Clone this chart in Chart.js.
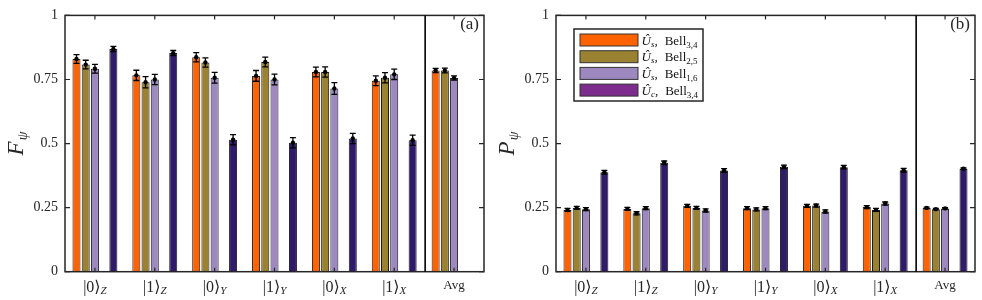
<!DOCTYPE html>
<html><head><meta charset="utf-8">
<script src="https://cdn.jsdelivr.net/npm/chart.js@4.4.0/dist/chart.umd.min.js"></script>
<style>
html,body{margin:0;padding:0;background:#fff;}
#wrap{position:relative;width:982px;height:300px;overflow:hidden;}
.box{position:absolute;top:0;width:491px;height:300px;}
</style></head><body>
<div id="wrap">
<div class="box" style="left:0"><canvas id="ca" width="491" height="300"></canvas></div>
<div class="box" style="left:491px"><canvas id="cb" width="491" height="300"></canvas></div>
</div>
<script>
// ---- data ----
const categories = ['|0⟩_Z','|1⟩_Z','|0⟩_Y','|1⟩_Y','|0⟩_X','|1⟩_X','Avg'];
const yTicks = [0, 0.25, 0.5, 0.75, 1];
const yTickLabels = ['0', '0.25', '0.5', '0.75', '1'];

// panel (a): fidelity
const F_s34 = [0.830, 0.766, 0.837, 0.764, 0.779, 0.745, 0.785];
const F_s25 = [0.808, 0.739, 0.816, 0.818, 0.779, 0.757, 0.785];
const F_s16 = [0.792, 0.750, 0.757, 0.750, 0.715, 0.770, 0.756];
const F_c34 = [0.869, 0.853, 0.515, 0.503, 0.520, 0.513, null];
const F_s34_err = [0.017, 0.020, 0.018, 0.021, 0.019, 0.019, 0.008];
const F_s25_err = [0.017, 0.022, 0.018, 0.019, 0.020, 0.020, 0.009];
const F_s16_err = [0.017, 0.020, 0.021, 0.021, 0.023, 0.020, 0.008];
const F_c34_err = [0.010, 0.010, 0.020, 0.020, 0.020, 0.020, null];

// panel (b): probability
const P_s34 = [0.241, 0.245, 0.257, 0.248, 0.257, 0.252, 0.249];
const P_s25 = [0.249, 0.228, 0.249, 0.243, 0.258, 0.241, 0.244];
const P_s16 = [0.244, 0.248, 0.239, 0.248, 0.235, 0.266, 0.247];
const P_c34 = [0.388, 0.425, 0.395, 0.409, 0.408, 0.396, 0.402];
const P_s34_err = [0.006, 0.006, 0.006, 0.006, 0.006, 0.006, 0.003];
const P_s25_err = [0.006, 0.006, 0.006, 0.006, 0.006, 0.006, 0.003];
const P_s16_err = [0.006, 0.006, 0.006, 0.006, 0.006, 0.006, 0.003];
const P_c34_err = [0.007, 0.007, 0.007, 0.007, 0.007, 0.007, 0.003];

// legend text parts
const seriesOp = ['Û', 'Û', 'Û', 'Û'];
const seriesOpSub = ['s', 's', 's', 'c'];
const seriesBellSub = ['3,4', '2,5', '1,6', '3,4'];

// ---- styles ----
const barColors = ['#FF6200', '#9A8232', '#9D88BF', '#2F1B69'];
const legendColors = ['#FF6200', '#9A8232', '#9D88BF', '#7B2C8C'];
const axisColor = '#262626';
const SERIF = '"Liberation Serif", "DejaVu Serif", serif';

function makeDatasets(vals, errs) {
  const ds = [];
  for (let i = 0; i < 3; i++) {
    ds.push({ data: vals[i], err: errs[i], backgroundColor: barColors[i], borderColor: '#1c1c1c', borderWidth: 1 });
  }
  ds.push({ data: categories.map(() => null), err: null, backgroundColor: 'rgba(0,0,0,0)' }); // empty slot
  ds.push({ data: vals[3], err: errs[3], backgroundColor: barColors[3], borderColor: '#1c1c1c', borderWidth: 1 });
  return ds;
}

function drawRich(ctx, parts, x, y, align) {
  let total = 0;
  parts.forEach(p => { ctx.font = p.font; p.w = ctx.measureText(p.t).width + (p.gap || 0); total += p.w; });
  let cx = align === 'center' ? x - total / 2 : x;
  ctx.textAlign = 'left';
  ctx.textBaseline = 'alphabetic';
  parts.forEach(p => { ctx.font = p.font; ctx.fillText(p.t, cx, y + (p.dy || 0)); cx += p.w; });
}

function decorPlugin(panel, yTitleMain, hasLegend) {
  return {
    id: 'decor' + panel,
    afterDatasetsDraw(chart) {
      const ctx = chart.ctx, ys = chart.scales.y;
      ctx.save();
      ctx.strokeStyle = '#000';
      ctx.fillStyle = '#000';
      ctx.lineWidth = 1.3;
      chart.data.datasets.forEach((ds, di) => {
        if (!ds.err) return;
        const meta = chart.getDatasetMeta(di);
        meta.data.forEach((el, j) => {
          const v = ds.data[j], e = ds.err[j];
          if (v == null || e == null) return;
          const x = el.x;
          const yt = ys.getPixelForValue(v + e), yb = ys.getPixelForValue(v - e), yv = ys.getPixelForValue(v);
          ctx.beginPath();
          ctx.moveTo(x, yt); ctx.lineTo(x, yb);
          ctx.moveTo(x - 3, yt); ctx.lineTo(x + 3, yt);
          ctx.moveTo(x - 3, yb); ctx.lineTo(x + 3, yb);
          ctx.stroke();
          ctx.beginPath();
          ctx.arc(x, yv, 2.2, 0, Math.PI * 2);
          ctx.fill();
        });
      });
      ctx.restore();
    },
    afterDraw(chart) {
      const ctx = chart.ctx, a = chart.chartArea, xs = chart.scales.x, ys = chart.scales.y;
      ctx.save();
      ctx.strokeStyle = axisColor;
      ctx.lineWidth = 1.5;
      ctx.strokeRect(a.left, a.top, a.right - a.left, a.bottom - a.top);
      ctx.lineWidth = 1.2;
      ctx.beginPath();
      yTicks.forEach(t => {
        const y = ys.getPixelForValue(t);
        ctx.moveTo(a.left, y); ctx.lineTo(a.left + 5, y);
        ctx.moveTo(a.right, y); ctx.lineTo(a.right - 5, y);
      });
      categories.forEach((c, i) => {
        const x = xs.getPixelForValue(i);
        ctx.moveTo(x, a.top); ctx.lineTo(x, a.top + 4);
        ctx.moveTo(x, a.bottom); ctx.lineTo(x, a.bottom - 4);
      });
      ctx.stroke();
      const sx = (xs.getPixelForValue(5) + xs.getPixelForValue(6)) / 2 + 1;
      ctx.strokeStyle = '#000';
      ctx.lineWidth = 1.6;
      ctx.beginPath(); ctx.moveTo(sx, a.top); ctx.lineTo(sx, a.bottom); ctx.stroke();
      ctx.fillStyle = axisColor;
      categories.forEach((c, i) => {
        const x = xs.getPixelForValue(i);
        if (c.indexOf('_') >= 0) {
          const [m, s] = c.split('_');
          drawRich(ctx, [
            { t: m, font: '16px ' + SERIF },
            { t: s, font: 'italic 11px ' + SERIF, dy: 2 }
          ], x, 291.5, 'center');
        } else {
          drawRich(ctx, [{ t: c, font: '13px ' + SERIF }], x, 289, 'center');
        }
      });
      ctx.save();
      ctx.translate(23, (a.top + a.bottom) / 2);
      ctx.rotate(-Math.PI / 2);
      drawRich(ctx, [
        { t: yTitleMain, font: 'italic 23px ' + SERIF, gap: 1 },
        { t: 'ψ', font: 'italic 14px ' + SERIF, dy: 4 }
      ], 0, 0, 'center');
      ctx.restore();
      ctx.font = '17px ' + SERIF;
      ctx.textAlign = 'right';
      ctx.textBaseline = 'alphabetic';
      ctx.fillText('(' + panel + ')', a.right - 5, 29);
      if (hasLegend) {
        const lx = 83, ly = 29, lw = 129, lh = 72;
        ctx.fillStyle = '#fff';
        ctx.fillRect(lx, ly, lw, lh);
        ctx.strokeStyle = '#262626';
        ctx.lineWidth = 1.5;
        ctx.strokeRect(lx, ly, lw, lh);
        for (let i = 0; i < 4; i++) {
          const ry = 34 + i * 16.7;
          ctx.fillStyle = legendColors[i];
          ctx.fillRect(89, ry, 58, 12);
          ctx.strokeStyle = '#333';
          ctx.lineWidth = 1;
          ctx.strokeRect(89, ry, 58, 12);
          ctx.fillStyle = '#111';
          drawRich(ctx, [
            { t: seriesOp[i], font: 'italic 13px ' + SERIF },
            { t: seriesOpSub[i], font: 'italic 9px ' + SERIF, dy: 2 },
            { t: ',', font: '13px ' + SERIF, gap: 7 },
            { t: 'Bell', font: '13px ' + SERIF },
            { t: seriesBellSub[i], font: '9px ' + SERIF, dy: 3 }
          ], 150.5, ry + 10.5, 'left');
        }
      }
      ctx.restore();
    }
  };
}

function makeChart(id, panel, vals, errs, yTitleMain, hasLegend) {
  return new Chart(document.getElementById(id), {
    type: 'bar',
    data: { labels: categories, datasets: makeDatasets(vals, errs) },
    options: {
      responsive: false,
      animation: false,
      layout: { padding: { top: 10.7, right: 7, bottom: 0, left: 0 } },
      datasets: { bar: { categoryPercentage: 0.77, barPercentage: 0.87 } },
      plugins: { legend: { display: false }, tooltip: { enabled: false } },
      scales: {
        x: {
          grid: { display: false, drawTicks: false },
          border: { display: false },
          ticks: { display: false },
          afterFit(s) { s.height = 28.3; }
        },
        y: {
          min: 0, max: 1,
          grid: { display: false, drawTicks: false },
          border: { display: false },
          afterBuildTicks(s) { s.ticks = yTicks.map(v => ({ value: v })); },
          ticks: {
            padding: 7,
            color: axisColor,
            font: { family: SERIF, size: 14 },
            callback: (v) => yTickLabels[yTicks.indexOf(v)]
          },
          afterFit(s) { s.width = 65; }
        }
      }
    },
    plugins: [decorPlugin(panel, yTitleMain, hasLegend)]
  });
}

makeChart('ca', 'a', [F_s34, F_s25, F_s16, F_c34], [F_s34_err, F_s25_err, F_s16_err, F_c34_err], 'F', false);
makeChart('cb', 'b', [P_s34, P_s25, P_s16, P_c34], [P_s34_err, P_s25_err, P_s16_err, P_c34_err], 'P', true);
</script>
</body></html>
